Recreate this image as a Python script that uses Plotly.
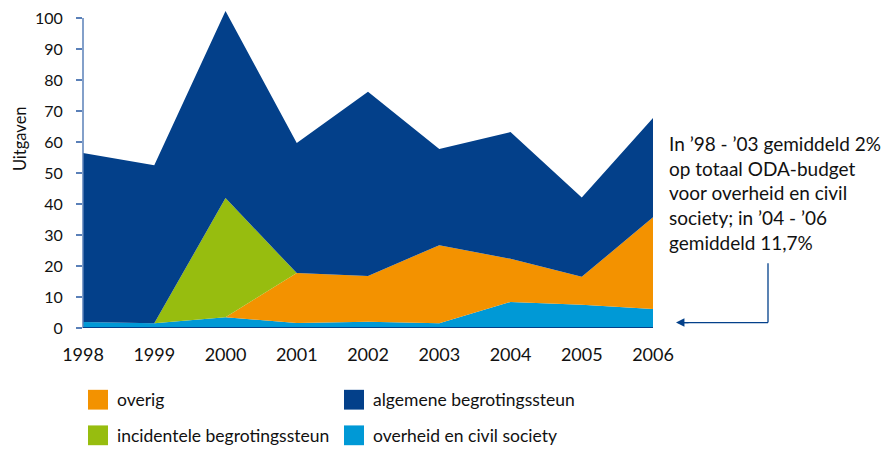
import plotly.graph_objects as go

jaren = [1998, 1999, 2000, 2001, 2002, 2003, 2004, 2005, 2006]
overheid_civil = [1.9, 1.5, 3.5, 1.6, 2.0, 1.5, 8.4, 7.5, 6.1]
overig = [0, 0, 0, 16.1, 14.8, 25.2, 13.9, 9.0, 29.6]
incidenteel = [0, 0, 38.4, 0, 0, 0, 0, 0, 0]
algemeen = [54.5, 51.0, 60.3, 42.0, 59.4, 31.0, 40.9, 25.6, 32.0]

y_ticks = list(range(0, 101, 10))

notitie = [
    "In ’98 - ’03 gemiddeld 2%",
    "op totaal ODA-budget",
    "voor overheid en civil",
    "society; in ’04 - ’06",
    "gemiddeld 11,7%",
]

NAVY = "#03408a"
ORANJE = "#f39200"
GROEN = "#97bd0f"
CYAAN = "#0099d6"
FONT = "Lato"

# pagina heeft 8px body-marge; figuur iets kleiner
OFF = 8
FIG_W, FIG_H = 891 - OFF, 449 - OFF
# plotgebied in referentiepixels
L, R, T, B = 83, 653, 8, 328.5
W, H = R - L, B - T
Y_TOP = H / 3.135  # 100 op pixel 15


def px(x):
    return (x - L) / W


def py(y):
    return (B - y) / H


series = [
    ("overheid en civil society", overheid_civil, CYAAN),
    ("overig", overig, ORANJE),
    ("incidentele begrotingssteun", incidenteel, GROEN),
    ("algemene begrotingssteun", algemeen, NAVY),
]

fig = go.Figure()
for naam, waarden, kleur in series:
    fig.add_trace(go.Scatter(
        x=jaren, y=waarden, name=naam, mode="lines",
        stackgroup="een", line=dict(width=0, color=kleur),
        fillcolor=kleur, showlegend=False,
    ))

shapes = [
    # y-as lijn tot 100
    dict(type="line", xref="paper", yref="y", x0=0, x1=0, y0=0, y1=100,
         line=dict(color="#5a80b8", width=1.5)),
    # x-as lijn
    dict(type="line", xref="paper", yref="y", x0=0, x1=1, y0=0, y1=0,
         line=dict(color=NAVY, width=2)),
    # pijl
    dict(type="line", xref="paper", yref="paper", x0=px(768), x1=px(768),
         y0=py(263), y1=py(323), line=dict(color=NAVY, width=1.3)),
    dict(type="line", xref="paper", yref="paper", x0=px(768), x1=px(684),
         y0=py(323), y1=py(323), line=dict(color=NAVY, width=1.3)),
]

annotations = [
    dict(x=px(19.5), y=py(137), xref="paper", yref="paper", text="Uitgaven",
         textangle=-90, xanchor="center", yanchor="middle", showarrow=False,
         font=dict(size=16.5, color="#111")),
    dict(x=px(676), y=py(323), ax=14, ay=0, xref="paper", yref="paper",
         axref="pixel", ayref="pixel", text="", showarrow=True, arrowhead=2,
         arrowsize=1.3, arrowwidth=1.3, arrowcolor=NAVY),
]
for i, regel in enumerate(notitie):
    annotations.append(dict(x=px(667), y=py(142 + 25 * i), xref="paper", yref="paper",
                            xanchor="left", yanchor="middle", text=regel, showarrow=False,
                            font=dict(size=19, color="#111")))

# legenda
legenda = [
    ("overig", ORANJE, 88, 401),
    ("incidentele begrotingssteun", GROEN, 88, 437),
    ("algemene begrotingssteun", NAVY, 344, 401),
    ("overheid en civil society", CYAAN, 344, 437),
]
for naam, kleur, lx, ly in legenda:
    shapes.append(dict(type="rect", xref="paper", yref="paper",
                       x0=px(lx), x1=px(lx + 20), y0=py(ly - 10), y1=py(ly + 10),
                       fillcolor=kleur, line=dict(width=0)))
    annotations.append(dict(x=px(lx + 27), y=py(ly), xref="paper", yref="paper",
                            xanchor="left", yanchor="middle", text=naam, showarrow=False,
                            font=dict(size=17.5, color="#111")))

fig.update_layout(
    width=FIG_W, height=FIG_H,
    margin=dict(l=L - OFF, r=FIG_W - (R - OFF), t=T - OFF, b=FIG_H - (B - OFF)),
    paper_bgcolor="white", plot_bgcolor="white",
    font=dict(family=FONT, color="#111"),
    xaxis=dict(range=[1998, 2006], tickvals=jaren, showgrid=False, zeroline=False,
               showline=False, ticks="", tickfont=dict(size=18), ticklabelstandoff=14),
    yaxis=dict(range=[0, Y_TOP], tickvals=y_ticks, showgrid=False, zeroline=False,
               showline=False, ticks="outside", ticklen=6, tickcolor="#5a80b8",
               tickwidth=1.5, tickfont=dict(size=16), ticklabelstandoff=10,
               ticklabeloverflow="allow"),
    shapes=shapes,
    annotations=annotations,
)

fig.write_html("out.html")
